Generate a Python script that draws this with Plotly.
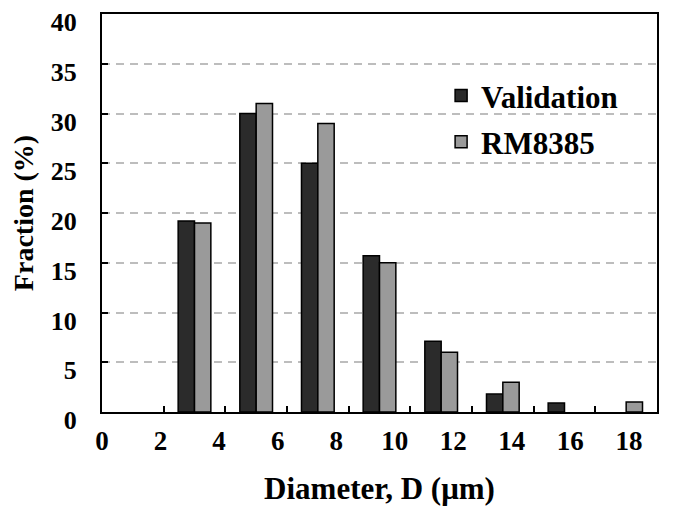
import plotly.graph_objects as go

# bin centres (um) of the 2-um diameter classes; None = empty class
diameter_bins = [1, 3, 5, 7, 9, 11, 13, 15, 17]
validation = [None, 19.2, 30.0, 25.0, 15.7, 7.1, 1.8, 0.9, None]
rm8385 = [None, 19.0, 31.0, 29.0, 15.0, 6.0, 3.0, None, 1.0]

tick_values = [0, 2, 4, 6, 8, 10, 12, 14, 16, 18]
tick_labels = [str(v) for v in tick_values]
y_ticks = [0, 5, 10, 15, 20, 25, 30, 35, 40]

FONT = "Liberation Serif, Times New Roman, serif"

fig = go.Figure()
fig.add_trace(
    go.Bar(
        x=diameter_bins,
        y=validation,
        name="Validation",
        legendgroup="a",
        marker={"color": "#2b2b2b", "line": {"color": "#000000", "width": 1.5}},
    )
)
fig.add_trace(
    go.Bar(
        x=diameter_bins,
        y=rm8385,
        name="RM8385",
        legendgroup="b",
        marker={"color": "#9a9a9a", "line": {"color": "#000000", "width": 1.5}},
    )
)
# empty helper trace so the label axis (x2) gets drawn
fig.add_trace(
    go.Scatter(x=[None], y=[None], xaxis="x2", yaxis="y", showlegend=False, hoverinfo="skip")
)

# the page body adds an 8px margin, so the figure is 668x506
fig.update_layout(
    width=668,
    height=506,
    margin={"l": 94, "r": 19, "t": 6, "b": 102},
    paper_bgcolor="white",
    plot_bgcolor="white",
    barmode="group",
    bargap=0.47,
    bargroupgap=0,
    font={"family": FONT, "color": "#000000", "weight": 700},
    showlegend=True,
    legend={
        "x": 0.611,
        "y": 0.862,
        "xanchor": "left",
        "yanchor": "top",
        "bgcolor": "rgba(0,0,0,0)",
        "font": {"size": 31, "family": FONT, "weight": 700},
        "traceorder": "grouped",
        "tracegroupgap": 3,
        "itemwidth": 30,
    },
    xaxis={
        "range": [0, 18],
        "tickvals": tick_values,
        "showticklabels": False,
        "ticks": "inside",
        "ticklen": 6,
        "tickwidth": 2,
        "tickcolor": "#000000",
        "showline": True,
        "linecolor": "#000000",
        "linewidth": 2,
        "mirror": True,
        "showgrid": False,
        "zeroline": False,
        "automargin": False,
    },
    xaxis2={
        "overlaying": "x",
        "anchor": "y",
        "side": "bottom",
        "range": [0, 18.96],
        "tickvals": tick_values,
        "ticktext": tick_labels,
        "ticks": "",
        "ticklabelstandoff": 10,
        "ticklabeloverflow": "allow",
        "tickfont": {"size": 27, "family": FONT, "weight": 700},
        "showline": False,
        "showgrid": False,
        "zeroline": False,
        "automargin": False,
        "title": {
            "text": "Diameter, D (\u03bcm)",
            "font": {"size": 31, "family": FONT, "weight": 700},
            "standoff": 22,
        },
    },
    yaxis={
        "range": [0, 40],
        "tickvals": y_ticks,
        "ticks": "inside",
        "ticklen": 6,
        "tickwidth": 2,
        "tickcolor": "#000000",
        "ticklabelstandoff": 18,
        "ticklabelshift": 8,
        "ticklabeloverflow": "allow",
        "tickfont": {"size": 26, "family": FONT, "weight": 700},
        "showline": True,
        "linecolor": "#000000",
        "linewidth": 2,
        "mirror": True,
        "showgrid": True,
        "gridcolor": "#bdbdbd",
        "gridwidth": 2,
        "griddash": "8px,6px",
        "zeroline": False,
        "automargin": False,
        "title": {
            "text": "Fraction (%)",
            "font": {"size": 28, "family": FONT, "weight": 700},
            "standoff": 12,
        },
    },
)

fig.write_html("out.html")
